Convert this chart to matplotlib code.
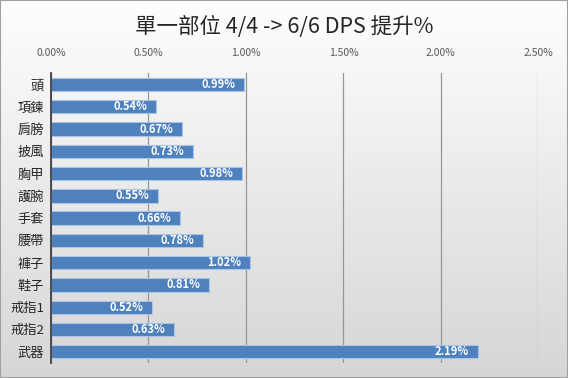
import numpy as np
import matplotlib
matplotlib.use('Agg')
import matplotlib.pyplot as plt
from matplotlib.ticker import FuncFormatter

plt.rcParams['font.family'] = ['Noto Sans CJK TC', 'DejaVu Sans']

parts = ['頭', '項鍊', '肩膀', '披風', '胸甲', '護腕', '手套', '腰帶', '褲子', '鞋子', '戒指1', '戒指2', '武器']
gain = [0.99, 0.54, 0.67, 0.73, 0.98, 0.55, 0.66, 0.78, 1.02, 0.81, 0.52, 0.63, 2.19]
xticks = [0.0, 0.5, 1.0, 1.5, 2.0, 2.5]

fig = plt.figure(figsize=(5.68, 3.78), dpi=100)

# background gradient (white -> light grey)
bg = fig.add_axes([0, 0, 1, 1], zorder=-10)
grad = np.linspace(0, 1, 256).reshape(-1, 1)
bg.imshow(grad, aspect='auto', cmap=plt.matplotlib.colors.LinearSegmentedColormap.from_list(
    'bg', ['#fefefe', '#d6d6d6']), extent=[0, 1, 0, 1], origin='upper')
bg.set_xlim(0, 1)
bg.set_ylim(0, 1)
bg.axis('off')
fig.patches.append(plt.Rectangle((0, 0), 1, 1, transform=fig.transFigure,
                                 fill=False, edgecolor='#a0a0a0', lw=1.5))

ax = fig.add_axes([0.0898, 0.04, 0.858, 0.766])
ax.patch.set_alpha(0)
y = np.arange(len(parts))
bars = ax.barh(y, gain, height=0.6, color='#4f81bd', edgecolor='#a9c4e6', lw=0.8, zorder=3)
ax.set_ylim(len(parts) - 0.5, -0.5)
ax.set_xlim(0, 2.5)
ax.set_yticks(y)
ax.set_yticklabels(parts, fontsize=9.5, color='#262626')
ax.set_xticks(xticks)
ax.xaxis.set_major_formatter(FuncFormatter(lambda v, p: f'{v:.2f}%'))
ax.xaxis.tick_top()
ax.tick_params(axis='x', length=0, labelsize=7.5, labelcolor='#595959', pad=11)
ax.tick_params(axis='y', length=0, pad=5)
ax.grid(axis='x', color='#969696', lw=0.9, zorder=0)
for s in ['top', 'right', 'bottom']:
    ax.spines[s].set_visible(False)
ax.spines['left'].set_color('#404040')
ax.spines['left'].set_linewidth(1.3)
ax.spines['left'].set_zorder(4)

for b, v in zip(bars, gain):
    ax.text(v - 0.045, b.get_y() + b.get_height() / 2, f'{v:.2f}%', ha='right', va='center',
            color='white', fontsize=8, fontweight='bold', zorder=5)

fig.text(0.5, 0.928, '單一部位 4/4 -> 6/6 DPS 提升%', ha='center', va='center',
         fontsize=15.5, color='#262626')

fig.savefig('out.png', dpi=100)
